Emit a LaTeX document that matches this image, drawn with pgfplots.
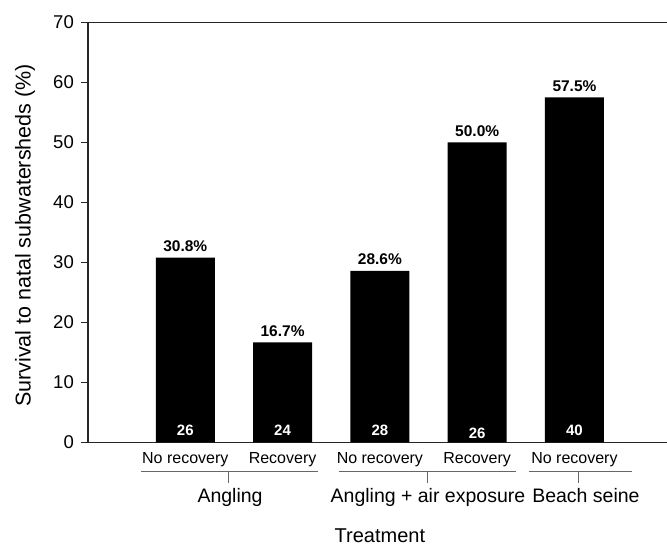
\documentclass[border=0pt]{standalone}
\usepackage{pgfplots}
\pgfplotsset{compat=1.18}
\usepackage{fontspec}
\setmainfont{Liberation Sans}
\begin{document}
\begin{tikzpicture}
\useasboundingbox (0,0) rectangle (667pt,548pt);
\begin{axis}[
  at={(88pt,105.5pt)}, anchor=south west,
  scale only axis, width=579pt, height=420pt,
  xmin=-1, xmax=4.951, ymin=0, ymax=70,
  axis x line*=box, axis y line*=left,
  axis line style={-, line width=1.1pt, black!85},
  ytick={0,10,...,70}, xtick=\empty,
  tick align=outside, major tick length=7pt,
  ytick style={line width=1.1pt, black!85},
  /pgf/number format/assume math mode=true,
  yticklabel style={font=\fontsize{18.5}{20}\selectfont, inner sep=0pt, xshift=-7pt},
  ybar, bar width=59pt,
  clip=false,
  nodes near coords={\pgfmathprintnumber[fixed,fixed zerofill,precision=1]{\pgfplotspointmeta}\%},
  every node near coord/.append style={font=\bfseries\fontsize{15.5}{17}\selectfont, anchor=base, inner sep=0pt, yshift=6pt},
]
\addplot[fill=black, draw=none] coordinates {(0,30.8) (1,16.7) (2,28.6) (3,50.0) (4,57.5)};

% sample sizes inside bars
\foreach \xx/\nn/\ys in {0/26/7,1/24/7,2/28/7,3/26/4,4/40/7}{
  \edef\tmp{\noexpand\node[text=white, font=\noexpand\bfseries\noexpand\fontsize{15}{17}\noexpand\selectfont, anchor=base, inner sep=0pt, yshift=\ys pt] at (axis cs:\xx,0) {\nn};}
  \tmp
}

% sub labels
\foreach \xx/\tt in {0/No recovery,1/Recovery,2/No recovery,3/Recovery,4/No recovery}{
  \edef\tmp{\noexpand\node[font=\noexpand\fontsize{16}{18}\noexpand\selectfont, anchor=base, inner sep=0pt] at (axis cs:\xx,-3.42) {\tt};}
  \tmp
}
% group brackets
\draw[line width=0.9pt, black!60] (axis cs:-0.455,-4.75) -- (axis cs:1.364,-4.75);
\draw[line width=0.9pt, black!60] (axis cs:1.580,-4.75) -- (axis cs:3.399,-4.75);
\draw[line width=0.9pt, black!60] (axis cs:3.532,-4.75) -- (axis cs:4.591,-4.75);
\draw[line width=0.9pt, black!60] (axis cs:0.439,-4.75) -- (axis cs:0.439,-6.75);
\draw[line width=0.9pt, black!60] (axis cs:2.484,-4.75) -- (axis cs:2.484,-6.75);
\draw[line width=0.9pt, black!60] (axis cs:4.036,-4.75) -- (axis cs:4.036,-6.75);
% group labels
\node[font=\fontsize{19.5}{21}\selectfont, anchor=base, inner sep=0pt] at (axis cs:0.46,-9.92) {Angling};
\node[font=\fontsize{19.5}{21}\selectfont, anchor=base, inner sep=0pt] at (axis cs:2.494,-9.92) {Angling + air exposure};
\node[font=\fontsize{19.5}{21}\selectfont, anchor=base, inner sep=0pt] at (axis cs:4.118,-9.92) {Beach seine};
% axis titles
\node[font=\fontsize{20}{22}\selectfont, anchor=base, inner sep=0pt] at (axis cs:2.0,-16.6) {Treatment};
\end{axis}
\node[font=\fontsize{21.5}{23}\selectfont, rotate=90, anchor=base, inner sep=0pt] at (30.5pt,312.5pt) {Survival to natal subwatersheds (\%)};
\end{tikzpicture}
\end{document}
